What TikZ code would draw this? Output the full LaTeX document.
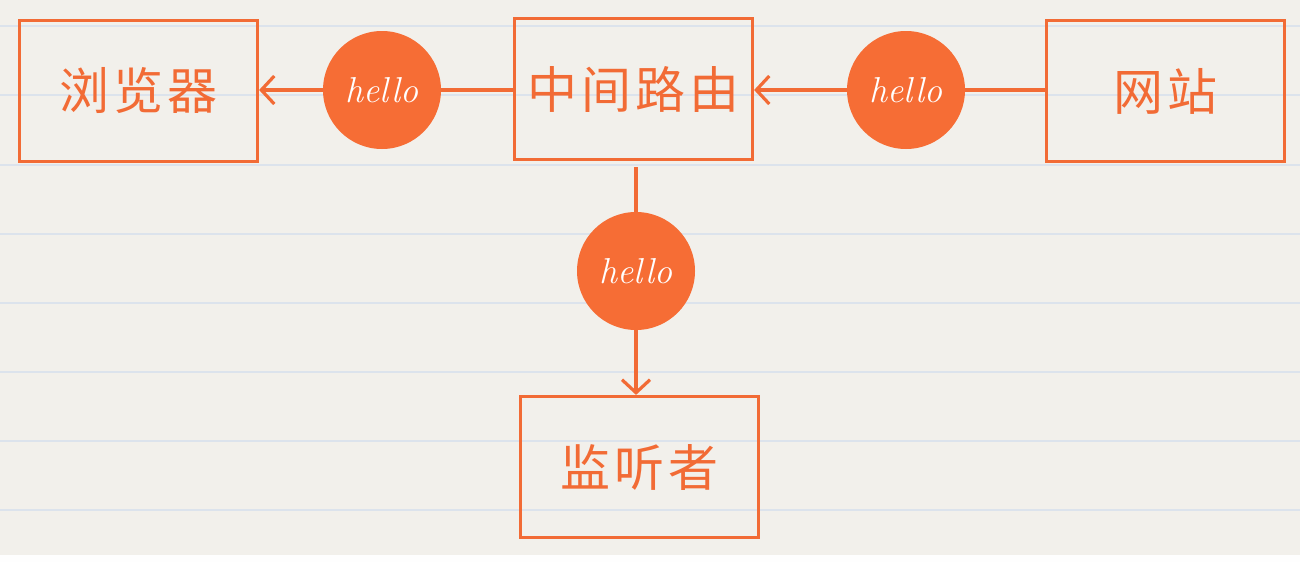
\documentclass[tikz,border=0pt]{standalone}
\usepackage{fontspec}
\newfontfamily\cjk[LetterSpace=8]{Noto Sans CJK SC}
\usetikzlibrary{arrows.meta}
\definecolor{bg}{HTML}{F2F0EB}
\definecolor{rulecol}{HTML}{DCE3EC}
\definecolor{org}{HTML}{F26B35}
\definecolor{orgfill}{HTML}{F66D35}
\begin{document}
\begin{tikzpicture}[x=1pt,y=-1pt,
  box/.style={draw=org, line width=3.2pt, minimum width=238pt, minimum height=141pt,
    inner sep=0pt, text=org, font=\cjk\fontsize{50}{58}\selectfont},
  msg/.style={circle, fill=orgfill, minimum size=118pt, inner sep=0pt, text=white,
    font=\itshape\fontsize{36}{42}\selectfont},
  conn/.style={draw=org, line width=3.2pt},
  tip/.style={-{Straight Barb[length=13pt,width=28pt,line width=3.2pt]}}]
\useasboundingbox (0,0) rectangle (1300,562);
\fill[bg] (0,0) rectangle (1300,555);
\fill[white!94!bg] (0,555) rectangle (1300,562);
\foreach \yy in {26,95,165,234,303,372,441,510}
  \draw[rulecol, line width=2pt] (0,\yy) -- (1300,\yy);

\node[box] (browser) at (138.5,91) {浏览器};
\node[box] (router) at (633.5,89) {中间路由};
\node[box] (site) at (1165.5,91) {网站};
\node[box] (listener) at (639.5,467) {监听者};

\node[msg] (m1) at (382,90) {hello};
\node[msg] (m2) at (906,90) {hello};
\node[msg] (m3) at (636,271) {hello};

\draw[conn,tip] (m1) -- (m1 -| browser.east);
\draw[conn] (router.west |- m1) -- (m1);
\draw[conn,tip] (m2) -- (m2 -| router.east);
\draw[conn] (site.west |- m2) -- (m2);
\draw[conn] ([yshift=-6pt]router.south -| m3) -- (m3);
\draw[conn,tip] (m3) -- (m3 |- listener.north);
\end{tikzpicture}
\end{document}
